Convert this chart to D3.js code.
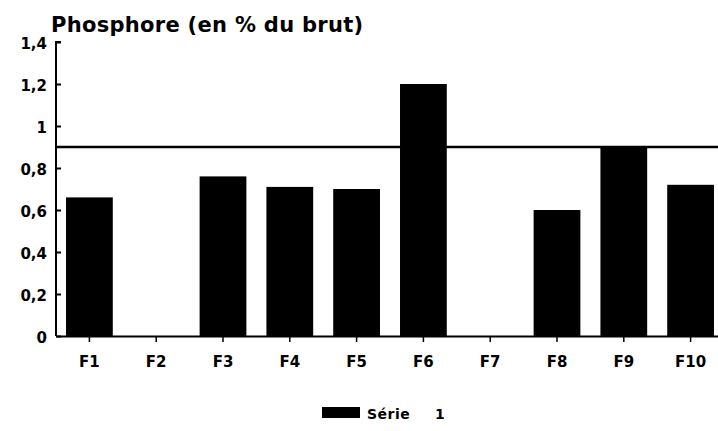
<!DOCTYPE html>
<html>
<head>
<meta charset="utf-8">
<script src="https://cdn.jsdelivr.net/npm/d3@7"></script>
<style>
  body { margin: 0; background: #fff; }
  text { font-family: "DejaVu Sans", Arial, sans-serif; font-weight: bold; fill: #000; }
</style>
</head>
<body>
<div id="chart"></div>
<script>
// data
const categories = ["F1", "F2", "F3", "F4", "F5", "F6", "F7", "F8", "F9", "F10"];
const values = [0.66, 0, 0.76, 0.71, 0.70, 1.2, 0, 0.6, 0.9, 0.72];
const yTicks = [0, 0.2, 0.4, 0.6, 0.8, 1, 1.2, 1.4];
const refLine = 0.9;
const seriesName = "Série";
const seriesNum = "1";

const W = 718, H = 431;
const margin = {top: 42, right: -6, bottom: 95, left: 56};

const svg = d3.select("#chart")
              .append("svg")
              .attr("width", W)
              .attr("height", H);

const x = d3.scaleBand()
            .domain(categories)
            .range([margin.left, W - margin.right])
            .paddingInner(0.3)
            .paddingOuter(0.15);

const y = d3.scaleLinear()
            .domain([0, 1.4])
            .range([H - margin.bottom, margin.top]);

// title
svg.append("text")
   .attr("x", 51)
   .attr("y", 32)
   .style("font-size", "21px")
   .style("letter-spacing", "0.3px")
   .text("Phosphore (en % du brut)");

// bars
svg.append("g")
   .selectAll("rect")
   .data(values)
   .join("rect")
     .attr("x", (d, i) => x(categories[i]))
     .attr("y", d => y(d))
     .attr("width", x.bandwidth())
     .attr("height", d => y(0) - y(d))
     .attr("fill", "#000");

// reference line
svg.append("line")
   .attr("x1", margin.left)
   .attr("x2", W)
   .attr("y1", y(refLine))
   .attr("y2", y(refLine))
   .attr("stroke", "#000")
   .attr("stroke-width", 2.5);

// y axis, ticks pointing inward
const yAxis = svg.append("g")
   .attr("transform", `translate(${margin.left}, 0)`)
   .call(d3.axisRight(y)
           .tickValues(yTicks)
           .tickSize(5)
           .tickFormat(d => d3.format(".1~f")(d).replace(".", ",")));
yAxis.select(".domain").attr("stroke-width", 2).attr("d", `M5,${y(1.4)}H0V${y(0)}`);
yAxis.selectAll(".tick line").attr("stroke-width", 2);
yAxis.selectAll(".tick text")
     .attr("x", -9)
     .attr("dy", "0.4em")
     .attr("text-anchor", "end")
     .style("font-size", "15px");

// x axis
const xAxis = svg.append("g")
   .attr("transform", `translate(0, ${y(0)})`)
   .call(d3.axisBottom(x).tickSize(6).tickSizeOuter(0));
xAxis.select(".domain").attr("stroke-width", 2);
xAxis.selectAll(".tick line").attr("stroke-width", 1.5);
xAxis.selectAll(".tick text")
     .attr("y", 20)
     .attr("dy", "0.71em")
     .style("font-size", "15px");

// legend
const legend = svg.append("g").attr("transform", "translate(322, 407)");
legend.append("rect")
      .attr("width", 38)
      .attr("height", 11)
      .attr("fill", "#000");
legend.append("text")
      .attr("x", 45)
      .attr("y", 12)
      .style("font-size", "14px")
      .style("letter-spacing", "0.5px")
      .text(seriesName);
legend.append("text")
      .attr("x", 113)
      .attr("y", 12)
      .style("font-size", "14px")
      .text(seriesNum);
</script>
</body>
</html>
